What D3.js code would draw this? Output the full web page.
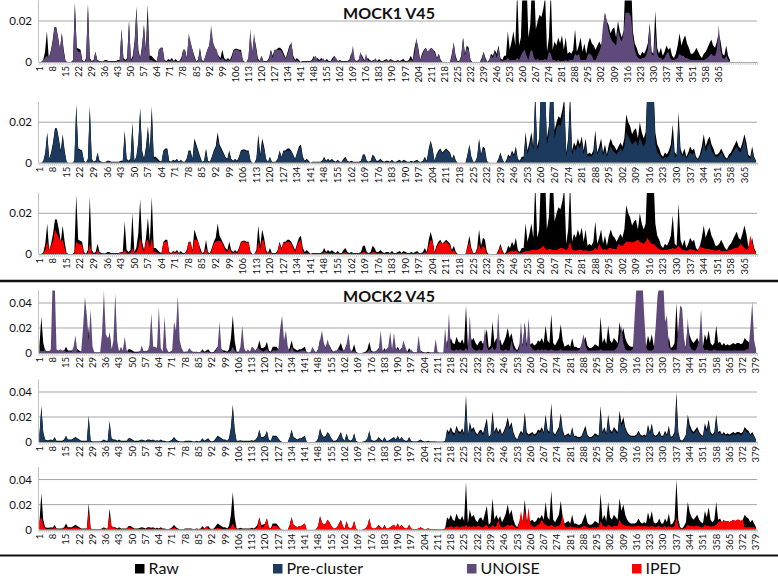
<!DOCTYPE html>
<html>
<head>
<meta charset="utf-8">
<script src="https://cdn.jsdelivr.net/npm/d3@7"></script>
<style>
  body { margin: 0; background: #fff; }
  text { font-family: Lato, "Open Sans", sans-serif; fill: #111; }
</style>
</head>
<body>
<div id="chart"></div>
<script>
// values are relative abundances x 1e-3 (one entry per OTU / category)
const mock1Raw = [
  0, 0, 1, 5, 15, 2, 5, 10, 17, 17,
  12, 6, 14, 6, 0.5, 0, 0, 0, 1, 29,
  7, 6.5, 6, 1, 0, 2, 28, 2, 0.5, 1,
  5, 1, 0.5, 0.3, 0.3, 1, 1, 0.5, 0.5, 0.5,
  0.5, 0.5, 1, 1, 16, 2, 1, 2, 20, 1,
  3, 10, 27, 6, 2, 8, 18, 6, 28, 3,
  3, 2, 1, 0.5, 6, 7, 7, 1, 0.5, 1.5,
  1, 2, 0.5, 1.5, 0.5, 0.5, 2, 6, 6, 2,
  12, 9, 6, 3, 0.5, 1, 7, 1, 0.5, 3,
  6, 8, 15, 9, 7, 5, 3, 2, 6, 2,
  1, 2, 1, 3, 6, 6.5, 6.5, 6, 6, 1,
  0, 0, 2, 14, 4, 12, 8, 2, 0.5, 3,
  0.5, 0.5, 0.5, 2, 6, 3, 6, 6, 7, 7,
  6, 4, 2, 5, 8, 9, 3, 1, 2, 1,
  0, 0.5, 0.5, 0.5, 0.5, 0.5, 1, 3, 1, 2,
  1, 2, 1, 0.5, 1.5, 0.5, 0.5, 2, 3, 1,
  0.5, 1, 0.5, 0.5, 0.5, 0.5, 1, 4, 4, 1,
  0.5, 1, 4, 3, 1, 1, 2, 1, 0.5, 1,
  1, 0.5, 1.5, 0.5, 0.5, 1, 1.5, 0.5, 1.5, 1,
  0.5, 0.5, 1, 0.5, 1, 1.5, 0.5, 0.5, 1, 3,
  1, 7, 11, 7, 1, 4, 6, 7, 5, 6,
  7, 6, 5, 2, 4, 1, 0, 0, 0, 0,
  0, 4, 9, 3, 0.5, 0.5, 3, 12, 4, 8,
  7, 1, 0, 0, 0, 0, 0, 2, 5, 2,
  0, 1, 4, 3, 6, 4, 8, 2, 1, 3,
  3, 15, 6, 10, 15, 8, 35, 8, 12, 40,
  40, 40, 12, 18, 40, 40, 16, 20, 23, 22,
  26, 32, 5, 12, 35, 6, 10, 8, 12, 9,
  13, 6, 12, 4, 5, 4, 6, 16, 5, 8,
  12, 5, 9, 4, 9, 12, 9, 8, 6, 8,
  10, 8, 12, 24, 20, 18, 14, 16, 17, 12,
  20, 15, 12, 15, 40, 40, 40, 40, 15, 9,
  7, 4, 3, 5, 4, 6, 9, 19, 5, 4,
  25, 7, 4, 7, 3, 5, 8, 6, 7, 3,
  2, 4, 8, 14, 8, 11, 13, 9, 7, 4,
  4, 5, 7, 5, 3, 2, 4, 5, 7, 9,
  11, 8, 7, 10, 14, 10, 4, 3, 8, 3,
  1
]
const mock1Pre = [
  0, 0, 0.5, 4, 14, 2, 4, 9, 16, 16.5,
  11, 5, 13, 5, 0.3, 0, 0, 0, 0.5, 27,
  6.5, 6, 5.5, 0.5, 0, 1.5, 26, 1.5, 0.3, 0.5,
  4.5, 0.5, 0.3, 0.2, 0.2, 0.5, 0.5, 0.3, 0.3, 0.3,
  0.3, 0.3, 0.5, 0.5, 14, 1.5, 0.5, 1.5, 18, 0.5,
  2.5, 9, 25, 5, 1.5, 7, 16, 5, 25, 2,
  2, 1, 0.5, 0.3, 5.5, 6.5, 6.5, 0.5, 0.3, 1,
  0.5, 1.5, 0.3, 1, 0.3, 0.3, 1.5, 5.5, 5.5, 1.5,
  10, 8, 5, 2, 0.3, 0.5, 6, 0.5, 0.3, 2.5,
  5.5, 7, 12, 8, 6, 4.5, 2.5, 1.5, 5, 1.5,
  0.5, 1.5, 0.5, 2.5, 5.5, 6, 6, 5.5, 5.5, 0.5,
  0, 0, 1.5, 11, 3, 10, 7, 1.5, 0.3, 2.5,
  0.3, 0.3, 0.3, 1.5, 5.5, 2.5, 5.5, 5.5, 6, 6,
  5.5, 3.5, 1.5, 4.5, 7, 8, 2.5, 0.5, 1.5, 0.5,
  0, 0.3, 0.3, 0.3, 0.3, 0.3, 0.5, 2.5, 0.5, 1.5,
  0.5, 1.5, 0.5, 0.3, 1, 0.3, 0.3, 1.5, 2.5, 0.5,
  0.3, 0.5, 0.3, 0.3, 0.3, 0.3, 0.5, 3.5, 3.5, 0.5,
  0.3, 0.5, 3.5, 2.5, 0.5, 0.5, 1.5, 0.5, 0.3, 0.5,
  0.5, 0.3, 1, 0.3, 0.3, 0.5, 1, 0.3, 1, 0.5,
  0.3, 0.3, 0.5, 0.3, 0.5, 1, 0.3, 0.3, 0.5, 2.5,
  0.5, 6, 10, 6, 0.5, 3.5, 5.5, 6.5, 4.5, 5.5,
  6.5, 5.5, 4.5, 1.5, 3.5, 0.5, 0, 0, 0, 0,
  0, 3.5, 8.5, 2.5, 0.3, 0.3, 2.5, 11, 3.5, 7,
  6, 0.5, 0, 0, 0, 0, 0, 1.5, 4.5, 1.5,
  0, 0.5, 3, 2.5, 5, 3, 6, 1.5, 0.5, 2,
  2, 12, 4, 8, 12, 6, 32, 6, 9, 40,
  40, 40, 9, 14, 40, 40, 12, 17, 19, 18,
  22, 28, 3, 10, 29, 4, 7, 6, 9, 7,
  10, 4, 9, 3, 3.5, 3, 4, 12, 3.5, 6,
  9, 3.5, 6, 3, 6, 8, 6, 5, 4, 5.5,
  7, 5.5, 8, 15, 13, 11, 9, 10, 11, 8,
  13, 10, 8, 10, 40, 40, 40, 38, 10, 5,
  4, 2.5, 2, 3, 2.5, 3.5, 6, 12, 3, 3,
  20, 5, 3, 4.5, 2, 3.5, 5, 4, 5, 2,
  1.5, 3, 5.5, 10, 5.5, 8, 10, 6, 4.5, 3,
  3, 3.5, 5, 3.5, 2, 1.5, 3, 3.5, 5, 6.5,
  8, 6, 5, 7.5, 12, 7, 3, 2, 6, 2,
  0.5
]
const mock1Unoise = [
  0, 0, 1, 2, 3, 2, 5, 9, 16, 17,
  12, 6, 14, 5, 0.3, 0, 0, 0, 0.5, 27,
  6, 5, 5, 0.5, 0, 1, 28, 1, 0.3, 0.5,
  5, 0.5, 0.2, 0.2, 0.2, 0.5, 0.5, 0.2, 0.2, 0.3,
  0.3, 0.3, 0.5, 0.5, 16, 1, 0.5, 1, 20, 0.5,
  2, 9, 26, 5, 1.5, 7, 18, 5, 22, 1,
  1, 0.5, 0.3, 0.2, 6, 7, 7, 0.5, 0.3, 0.5,
  0.5, 1, 0.3, 0.5, 0.3, 0.3, 1, 6, 6, 1.5,
  14, 10, 6, 2, 0.3, 0.5, 6, 0.5, 0.3, 3,
  6, 8, 18, 10, 7, 6, 2.5, 1, 2, 1,
  0.5, 1, 0.5, 2, 5.5, 6, 6, 5.5, 5, 0.5,
  0, 0, 2, 16, 4, 14, 7, 1, 0.3, 3,
  0.3, 0.3, 0.3, 1, 6, 2, 5.5, 6, 6, 6,
  5, 3, 1.5, 4, 7, 10, 2, 0.5, 1, 0.3,
  0, 0.2, 0.2, 0.3, 0.3, 0.3, 0.5, 2, 3, 1,
  0.5, 1, 2, 0.5, 0.5, 0.3, 0.3, 1, 3, 2,
  0.3, 0.5, 0.3, 0.3, 0.3, 0.3, 0.5, 3, 8, 1,
  0.3, 0.5, 5, 2, 0.5, 4, 1, 0.5, 0.3, 0.5,
  2, 0.3, 0.5, 0.3, 0.3, 0.5, 1, 0.3, 1, 0.5,
  0.3, 0.3, 0.5, 0.3, 0.5, 0.5, 0.3, 0.3, 0.5, 1,
  0.5, 4, 12, 6, 0.5, 3, 5.5, 7, 5, 6,
  7, 6, 4, 1.5, 4, 0.5, 0, 0, 0, 0,
  0, 3, 10, 2, 0.3, 0.3, 2, 12, 3, 7,
  6, 0.5, 0, 0, 0, 0, 0, 1, 5, 1,
  0, 0.5, 3, 2, 5, 2, 7, 1, 0.5, 1,
  1, 2, 1, 1, 1, 1, 2, 1, 3, 5,
  6, 3, 1, 5, 6, 2, 1, 1.5, 1, 1,
  1, 1.5, 1, 5, 4, 1, 1, 0.5, 1, 0.5,
  0.5, 0.5, 1, 0.5, 1, 1, 1, 4, 3, 4,
  1, 1, 1, 1, 4, 4, 3, 1, 1, 3,
  5, 8, 18, 24, 20, 15, 12, 10, 9, 8,
  16, 12, 10, 14, 24, 24, 24, 22, 12, 6,
  3, 2, 1.5, 2, 2, 3, 6, 18, 4, 3,
  14, 4, 2, 2, 1, 2, 4, 5, 2, 1,
  1, 1.5, 2, 4, 3, 3, 2, 2, 1.5, 1,
  1, 1, 1, 1, 1, 1, 1, 1.5, 2, 3,
  4, 3, 3, 6, 18, 6, 2, 1.5, 3, 1,
  0.3
]
const mock1Iped = [
  0, 0, 0.5, 2, 6, 2, 4, 6, 12, 10,
  8, 6, 7, 3, 0.2, 0, 0, 0, 0.3, 6,
  5, 5, 4, 0.3, 0, 0.5, 5, 0.5, 0.2, 0.3,
  2, 0.3, 0.2, 0.2, 0.2, 0.3, 0.3, 0.2, 0.2, 0.2,
  0.2, 0.3, 1, 0.5, 2, 0.5, 0.3, 0.5, 3, 0.3,
  1, 3, 8, 3, 1, 6, 7, 3, 8, 1,
  1, 0.5, 0.3, 0.2, 5.5, 6, 6, 0.5, 0.2, 1,
  0.5, 1, 0.2, 0.5, 0.2, 0.2, 1, 5.5, 6, 1,
  7, 7, 6, 1.5, 0.2, 0.3, 3, 0.3, 0.2, 2,
  5, 6, 6.5, 6.5, 6, 4, 1.5, 1, 3, 1,
  0.3, 1, 0.3, 2, 5.5, 6, 6, 5.5, 5.5, 0.3,
  0, 0, 1, 6, 2, 7, 6, 1, 0.2, 1,
  0.2, 0.2, 0.2, 1, 5.5, 2, 5.5, 5.5, 6, 6,
  5, 3, 1, 4, 6, 7, 1, 0.3, 0.5, 0.3,
  0, 0.2, 0.2, 0.2, 0.2, 0.2, 0.3, 1, 0.5, 0.5,
  0.3, 0.5, 0.3, 0.2, 0.5, 0.2, 0.2, 0.5, 1, 0.3,
  0.2, 0.3, 0.2, 0.2, 0.2, 0.2, 0.3, 1, 1, 0.3,
  0.2, 0.3, 1, 1, 0.3, 0.3, 0.5, 0.3, 0.2, 0.3,
  0.3, 0.2, 0.5, 0.2, 0.2, 0.3, 0.5, 0.2, 0.5, 0.3,
  0.2, 0.2, 0.3, 0.2, 0.3, 0.5, 0.2, 0.2, 0.3, 1,
  0.3, 4, 7, 6, 0.3, 3, 5, 6, 5, 5.5,
  6, 5, 4, 1, 2, 0.3, 0, 0, 0, 0,
  0, 3, 6, 2, 0.2, 0.2, 2, 5, 2, 4,
  3, 0.3, 0, 0, 0, 0, 0, 1, 4, 1,
  0, 0.3, 1, 1, 2, 1, 2, 1, 0.3, 0.5,
  1, 1.5, 1.5, 1.5, 2, 2, 2, 2, 2.5, 3,
  4, 3, 2, 2.5, 2.5, 2, 2, 2, 2.5, 3,
  3, 2.5, 2, 3, 6, 2, 2, 1.5, 2, 2,
  2, 1.5, 2, 1.5, 1.5, 1.5, 2, 3, 2, 5,
  3, 2, 2.5, 2, 3, 3, 2.5, 2.5, 2.5, 5,
  4, 4, 5, 6, 6, 6, 5.5, 6, 6.5, 7,
  6, 5.5, 5, 6, 8, 6, 5, 5, 4, 3,
  2.5, 2, 2, 2, 2, 2.5, 2.5, 3, 2.5, 3,
  4, 3, 2, 2, 1.5, 2, 2.5, 2, 2, 1.5,
  1.5, 4, 3, 3, 2.5, 2.5, 2.5, 2, 2, 1.5,
  2, 2, 1.5, 1.5, 1.5, 1.5, 2, 2, 2.5, 3,
  3, 3.5, 5, 4, 3, 2, 3, 9, 6, 2,
  0.5
]

const mock2Raw = [
  6, 29, 8, 2, 1.5, 1.5, 2, 1.5, 4, 1,
  1, 1, 1, 2, 5, 2, 2, 2, 3, 4,
  3, 2, 1, 1, 1, 1, 21, 1, 0.5, 0.5,
  0.5, 0.5, 0.5, 1, 2, 1, 1, 17, 3, 2,
  2, 1, 2, 1, 1, 1, 1, 3, 3, 2,
  1, 1, 1, 1.5, 2, 1.5, 1, 2, 2, 1.5,
  2, 1, 1.5, 1, 2, 1, 1, 0.5, 0.5, 1,
  2, 4, 2, 1, 0.5, 0.5, 0.5, 1, 1, 1,
  1, 0.5, 0.5, 1, 0.5, 1, 3, 1, 2, 3,
  1, 0.5, 1, 3, 5, 4, 3, 2, 2, 1,
  3, 12, 30, 10, 1, 1, 1.5, 1, 1, 1,
  1, 1, 1.5, 1, 2, 4, 10, 4, 4, 5,
  9, 2, 1, 5, 5, 5, 3, 1, 0, 0,
  0, 0, 4, 10, 4, 3, 2, 3, 3, 4,
  5, 0, 0, 0, 0, 0, 0.5, 3, 11, 6,
  4, 5, 8, 6, 3, 1, 1, 2, 5, 8,
  3, 1, 7, 2, 1, 2, 7, 1, 0, 0,
  0, 0.5, 1, 3, 9, 2, 1, 1, 2, 4,
  2, 1, 4, 1, 1, 2, 3, 4, 2, 5,
  2, 4, 2, 1, 1, 4, 1, 0.5, 0.5, 0.5,
  1, 2, 1, 0.5, 0.5, 1, 0.5, 0.5, 0.5, 0.5,
  0.3, 0.3, 0.3, 0.3, 1, 10, 8, 12, 8, 7,
  13, 9, 8, 11, 7, 38, 5, 16, 10, 12,
  8, 6, 9, 10, 7, 13, 19, 4, 6, 25,
  8, 12, 8, 11, 6, 9, 13, 20, 12, 16,
  8, 4, 2, 6, 9, 7, 24, 8, 6, 7,
  8, 6, 7, 10, 9, 12, 8, 22, 10, 8,
  31, 8, 6, 9, 12, 23, 10, 5, 6, 7,
  5, 12, 5, 5, 4, 4, 5, 9, 13, 6,
  4, 4, 5, 7, 6, 5, 29, 8, 12, 7,
  22, 10, 8, 12, 10, 8, 25, 15, 20, 12,
  8, 6, 5, 5, 5, 6, 9, 6, 5, 6,
  5, 14, 8, 15, 6, 5, 6, 9, 5, 5,
  9, 6, 13, 4, 5, 8, 40, 8, 2, 1,
  3, 6, 22, 14, 10, 8, 10, 12, 8, 6,
  5, 15, 10, 18, 8, 6, 8, 22, 8, 9,
  6, 8, 6, 7, 6, 7, 8, 7, 8, 8,
  7, 8, 12, 10, 9, 6, 8, 5, 2
]
const mock2Pre = [
  5, 27, 7, 1.5, 1, 1, 1.5, 1, 3.5, 0.5,
  0.5, 0.5, 0.5, 1.5, 4.5, 1.5, 1.5, 1.5, 2.5, 3.5,
  2.5, 1.5, 0.5, 0.5, 0.5, 0.5, 19, 0.5, 0.3, 0.3,
  0.3, 0.3, 0.3, 0.5, 1.5, 0.5, 0.5, 15, 2.5, 1.5,
  1.5, 0.5, 1.5, 0.5, 0.5, 0.5, 0.5, 2.5, 2.5, 1.5,
  0.5, 0.5, 0.5, 1, 1.5, 1, 0.5, 1.5, 1.5, 1,
  1.5, 0.5, 1, 0.5, 1.5, 0.5, 0.5, 0.3, 0.3, 0.5,
  1.5, 3.5, 1.5, 0.5, 0.3, 0.3, 0.3, 0.5, 0.5, 0.5,
  0.5, 0.3, 0.3, 0.5, 0.3, 0.5, 2.5, 0.5, 1.5, 2.5,
  0.5, 0.3, 0.5, 2.5, 4, 3.5, 2.5, 1.5, 1.5, 0.5,
  2.5, 10, 27, 8, 0.5, 0.5, 1, 0.5, 0.5, 0.5,
  0.5, 0.5, 1, 0.5, 1.5, 3.5, 9, 3.5, 3.5, 4.5,
  8, 1.5, 0.5, 4.5, 4.5, 4.5, 2.5, 0.5, 0, 0,
  0, 0, 3.5, 9, 3.5, 2.5, 1.5, 2.5, 2.5, 3.5,
  4.5, 0, 0, 0, 0, 0, 0.3, 2.5, 10, 5.5,
  3.5, 4.5, 7.5, 5.5, 2.5, 0.5, 0.5, 1.5, 4.5, 7.5,
  2.5, 0.5, 6.5, 1.5, 0.5, 1.5, 6.5, 0.5, 0, 0,
  0, 0.3, 0.5, 2.5, 8.5, 1.5, 0.5, 0.5, 1.5, 3.5,
  1.5, 0.5, 3.5, 0.5, 0.5, 1.5, 2.5, 3.5, 1.5, 4.5,
  1.5, 3.5, 1.5, 0.5, 0.5, 3.5, 0.5, 0.3, 0.3, 0.3,
  0.5, 1.5, 0.5, 0.3, 0.3, 0.5, 0.3, 0.3, 0.3, 0.3,
  0.2, 0.2, 0.2, 0.2, 0.5, 8, 6, 10, 6, 5.5,
  11, 7, 6.5, 9, 5.5, 30, 4, 13, 8, 10,
  6.5, 5, 7.5, 8, 5.5, 11, 15, 3, 5, 20,
  6.5, 10, 6.5, 9, 5, 7.5, 11, 16, 10, 13,
  6.5, 3, 1.5, 5, 7.5, 5.5, 19, 6.5, 5, 5.5,
  6.5, 5, 5.5, 8, 7.5, 10, 6.5, 18, 8, 6.5,
  25, 6.5, 5, 7.5, 10, 19, 8, 4, 5, 5.5,
  4, 10, 4, 4, 3, 3, 4, 7.5, 10, 5,
  3, 3, 4, 5.5, 5, 4, 23, 6.5, 10, 5.5,
  18, 8, 6.5, 10, 8, 6.5, 20, 12, 16, 10,
  6.5, 5, 4, 4, 4, 5, 7.5, 5, 4, 5,
  4, 11, 6.5, 12, 5, 4, 5, 7.5, 4, 4,
  7.5, 5, 10, 3, 4, 6.5, 34, 6, 1.5, 0.5,
  2.5, 5, 18, 11, 8, 6.5, 8, 10, 6.5, 5,
  4, 12, 8, 15, 6.5, 5, 6.5, 18, 6.5, 7.5,
  5, 6.5, 5, 5.5, 5, 5.5, 6.5, 5.5, 6.5, 6.5,
  5.5, 6.5, 10, 8, 7.5, 5, 6.5, 4, 1.5
]
const mock2Unoise = [
  1, 2, 1.5, 3, 1, 1, 3, 60, 60, 3,
  2, 3, 2, 2.5, 1, 1, 1.5, 1, 5, 14,
  1, 1, 1, 20, 45, 30, 10, 35, 5, 0.5,
  0.3, 0.3, 0.5, 15, 50, 15, 12, 14, 2, 10,
  48, 10, 1, 5, 2, 13, 2, 1, 1, 0.5,
  0.5, 0.5, 0.5, 1, 6, 1, 2, 1, 6, 32,
  5, 5, 4, 37, 4, 1, 29, 4, 1, 0.5,
  2, 25, 18, 46, 10, 4, 1, 1, 1, 4,
  2, 1, 1, 1, 0.5, 1, 1.5, 0.5, 1, 1,
  0.5, 0.3, 0.5, 2, 5, 25, 3, 1, 1, 0.5,
  1, 2, 5, 2, 0.5, 0.5, 5, 22, 4, 1,
  3, 1, 5, 4, 1, 5, 3, 2, 1, 2,
  3, 1, 0.5, 2, 2, 2, 3, 20, 30, 10,
  18, 5, 1, 5, 2, 1, 1, 1, 2, 2,
  2, 1, 0.5, 1, 5, 2, 0.5, 3, 10, 18,
  8, 4, 11, 5, 2, 1, 2, 2, 3, 2,
  2, 3, 7, 16, 3, 1, 2, 0.5, 0, 0,
  0, 0.3, 0.5, 1, 3, 1, 1, 1, 2, 3,
  18, 2, 2, 3, 5, 17, 3, 16, 4, 3,
  2, 3, 10, 5, 1, 1, 3, 1, 0.5, 0.5,
  14, 2, 0.5, 0.3, 0.3, 0.3, 0.5, 0.3, 0.3, 11,
  1, 0.3, 0.3, 0.3, 20, 3, 32, 3, 2, 2,
  3, 2, 3, 2, 2, 4, 2, 30, 5, 3,
  2, 2, 3, 2, 3, 20, 5, 2, 3, 5,
  2, 4, 33, 3, 2, 2, 3, 2, 2, 10,
  3, 2, 1, 3, 25, 4, 25, 4, 28, 6,
  3, 2, 2, 3, 2, 3, 2, 3, 2, 2,
  3, 2, 2, 2, 2, 3, 2, 2, 2, 2,
  2, 2, 2, 2, 2, 3, 8, 15, 6, 2,
  2, 2, 2, 2, 2, 2, 3, 2, 2, 2,
  2, 2, 2, 2, 3, 5, 10, 22, 8, 3,
  2, 2, 2, 3, 30, 55, 60, 60, 60, 30,
  5, 2, 2, 2, 3, 20, 45, 55, 60, 60,
  25, 30, 5, 3, 2, 3, 2, 20, 38, 36,
  12, 3, 28, 6, 3, 2, 2, 5, 10, 35,
  5, 2, 3, 2, 2, 2, 3, 2, 2, 2,
  2, 2, 2, 2, 2, 2, 2, 2, 2, 2,
  2, 2, 2, 3, 3, 20, 41, 10, 3
]
const mock2Iped = [
  7, 10, 4, 1, 0.5, 0.5, 1, 0.5, 2, 0.5,
  0.5, 0.5, 0.5, 1, 2, 1, 1, 1, 1.5, 2,
  1.5, 1, 0.5, 0.5, 0.5, 0.5, 15, 0.5, 0.2, 0.2,
  0.2, 0.2, 0.2, 0.5, 1, 0.5, 0.5, 12, 3, 2,
  1, 0.5, 1, 0.5, 0.5, 0.5, 0.5, 2, 1.5, 1,
  0.5, 0.5, 0.5, 0.5, 1, 0.5, 0.5, 1, 1, 0.5,
  1, 0.5, 0.5, 0.5, 1, 0.5, 0.5, 0.2, 0.2, 0.5,
  1, 2, 1, 0.5, 0.2, 0.2, 0.2, 0.5, 0.5, 0.5,
  0.5, 0.2, 0.2, 1, 0.2, 0.5, 1, 0.5, 3, 1,
  0.5, 0.2, 0.5, 1, 1.5, 1, 1, 0.5, 0.5, 0.5,
  1, 2, 5, 2, 0.5, 0.5, 0.5, 0.5, 0.5, 0.5,
  0.5, 0.5, 0.5, 0.5, 1, 2, 9, 2, 2, 5,
  9, 1.5, 0.5, 3, 3, 3, 2, 0.5, 0, 0,
  0, 0, 3, 10, 4, 3, 2, 3, 3, 4,
  5, 0, 0, 0, 0, 0, 0.3, 3, 10, 6,
  4, 5, 8, 6, 3, 1, 1, 2, 5, 7,
  3, 1, 6, 2, 1, 2, 7, 1, 0, 0,
  0, 0.3, 1, 3, 9, 2, 1, 1, 2, 3,
  2, 1, 3, 1, 1, 2, 3, 4, 2, 5,
  2, 4, 2, 1, 1, 4, 1, 0.5, 0.5, 0.5,
  1, 2, 1, 0.5, 0.5, 1, 0.5, 0.5, 0.5, 0.5,
  0.3, 0.3, 0.3, 0.3, 1, 2, 2, 3, 2, 2,
  3, 2, 2, 3, 2, 4, 2, 3, 2, 3,
  2, 3, 3, 2, 2, 3, 4, 1.5, 2, 4,
  2, 3, 8, 3, 2, 2, 3, 4, 3, 4,
  3, 2, 1, 5, 15, 6, 16, 5, 18, 4,
  3, 2, 3, 4, 5, 8, 5, 4, 3, 3,
  4, 3, 2, 3, 3, 5, 12, 3, 2, 2,
  3, 2, 2, 2, 1.5, 1.5, 2, 3, 3, 2,
  1.5, 1.5, 2, 2, 2, 2, 7, 3, 3, 2,
  4, 3, 2, 3, 3, 3, 8, 5, 4, 3,
  3, 3, 2.5, 2.5, 2.5, 3, 3, 2.5, 2.5, 3,
  2.5, 3, 2, 3, 2.5, 2, 2.5, 3, 2, 2,
  3, 2, 3, 2, 2, 3, 10, 3, 1, 0.5,
  1, 2, 4, 3, 3, 2.5, 3, 3, 2.5, 2,
  2, 4, 3, 3, 2.5, 2.5, 3, 4, 6, 7,
  6, 7, 7, 7, 6, 7, 8, 7, 8, 8,
  7, 8, 2, 2, 2, 2, 2, 2, 1
]

// axis labels
const mock1Labels = d3.range(1, 366, 7)
const mock2Labels = d3.range(1, 380, 7)
const mock1YTicks = [0, 0.02]
const mock2YTicks = [0, 0.02, 0.04]
const legendNames = ["Raw", "Pre-cluster", "UNOISE", "IPED"]

// boiler plate
const svgWidth = 778
const svgHeight = 578
const plotLeft = 38.5
const plotRight = 757

const colors = {
  raw: "#000000",
  pre: "#1b3a5e",
  unoise: "#604a7b",
  iped: "#ff0000"
}

let svg = d3.select("#chart")
  .append("svg")
  .attr("width", svgWidth)
  .attr("height", svgHeight)

let panels = [
  { top: 0.5, zero: 62, cats: 385, max: 0.03, ticks: mock1YTicks, labels: mock1Labels, raw: mock1Raw, series: mock1Unoise, color: colors.unoise },
  { top: 102, zero: 162.7, cats: 371, max: 0.03, ticks: mock1YTicks, labels: mock1Labels, raw: mock1Raw, series: mock1Pre, color: colors.pre },
  { top: 193, zero: 254, cats: 371, max: 0.03, ticks: mock1YTicks, labels: mock1Labels, raw: mock1Raw, series: mock1Iped, color: colors.iped },
  { top: 290.5, zero: 353, cats: 379, max: 0.05, ticks: mock2YTicks, labels: mock2Labels, raw: mock2Raw, series: mock2Unoise, color: colors.unoise },
  { top: 379.5, zero: 442, cats: 379, max: 0.05, ticks: mock2YTicks, labels: mock2Labels, raw: mock2Raw, series: mock2Pre, color: colors.pre },
  { top: 467, zero: 529.7, cats: 379, max: 0.05, ticks: mock2YTicks, labels: mock2Labels, raw: mock2Raw, series: mock2Iped, color: colors.iped }
]

function drawPanel(p, i) {
  let x = d3.scaleLinear().domain([0.5, p.cats + 0.5]).range([plotLeft, plotRight])
  let y = d3.scaleLinear().domain([0, p.max]).range([p.zero, p.top])
  let g = svg.append("g")

  // gridlines behind the areas
  g.selectAll(".grid")
    .data(p.ticks.filter(t => t > 0))
    .enter()
    .append("line")
    .attr("x1", plotLeft)
    .attr("x2", plotRight)
    .attr("y1", d => y(d))
    .attr("y2", d => y(d))
    .attr("stroke", "#a6a6a6")
    .attr("stroke-width", 1)

  let clipId = "clip" + i
  svg.append("clipPath")
    .attr("id", clipId)
    .append("rect")
    .attr("x", plotLeft)
    .attr("y", p.top)
    .attr("width", plotRight - plotLeft)
    .attr("height", p.zero - p.top)

  let area = d3.area()
    .x((d, j) => x(j + 1))
    .y0(p.zero)
    .y1(d => y(d / 1000))

  // raw behind, method in front
  g.append("path")
    .datum(p.raw)
    .attr("d", area)
    .attr("fill", colors.raw)
    .attr("clip-path", `url(#${clipId})`)

  g.append("path")
    .datum(p.series)
    .attr("d", area)
    .attr("fill", p.color)
    .attr("clip-path", `url(#${clipId})`)

  // y axis line
  g.append("line")
    .attr("x1", plotLeft)
    .attr("x2", plotLeft)
    .attr("y1", p.top)
    .attr("y2", p.zero)
    .attr("stroke", "#bfbfbf")

  g.selectAll(".ylab")
    .data(p.ticks)
    .enter()
    .append("text")
    .attr("x", 32)
    .attr("y", d => y(d))
    .attr("dy", "0.35em")
    .attr("text-anchor", "end")
    .attr("font-size", 11.5)
    .text(d => d === 0 ? "0" : d3.format(".2f")(d))

  // category axis with a minor tick per category
  let bottomAxis = d3.axisBottom(x)
    .tickValues(d3.range(0.5, p.cats + 1, 1))
    .tickSize(3)
    .tickSizeOuter(0)
    .tickFormat("")

  let xAxis = g.append("g")
    .attr("transform", `translate(0, ${p.zero})`)
    .call(bottomAxis)
  xAxis.select(".domain").attr("stroke", "#9a9a9a")
  xAxis.selectAll(".tick line").attr("stroke", "#c4c4c4").attr("stroke-width", 0.8)

  g.selectAll(".xlab")
    .data(p.labels)
    .enter()
    .append("text")
    .attr("transform", d => `translate(${x(d)}, ${p.zero + 4}) rotate(-90)`)
    .attr("text-anchor", "end")
    .attr("dy", "0.35em")
    .attr("font-size", 9.5)
    .text(d => d)
}

panels.forEach((p, i) => drawPanel(p, i))

// titles
svg.append("text")
  .attr("x", 389)
  .attr("y", 18.5)
  .attr("text-anchor", "middle")
  .attr("font-size", 16)
  .attr("font-weight", "bold")
  .text("MOCK1 V45")

svg.append("text")
  .attr("x", 389)
  .attr("y", 301.5)
  .attr("text-anchor", "middle")
  .attr("font-size", 16)
  .attr("font-weight", "bold")
  .text("MOCK2 V45")

// separators
svg.append("line")
  .attr("x1", 0).attr("x2", svgWidth)
  .attr("y1", 281).attr("y2", 281)
  .attr("stroke", "#111")
  .attr("stroke-width", 2.5)

svg.append("line")
  .attr("x1", 0).attr("x2", svgWidth)
  .attr("y1", 555.5).attr("y2", 555.5)
  .attr("stroke", "#111")
  .attr("stroke-width", 2)

// legend
let legendX = [135, 273, 467, 632]
let legendColors = [colors.raw, colors.pre, colors.unoise, colors.iped]

let legend = svg.selectAll(".legend")
  .data(legendNames)
  .enter()
  .append("g")
  .attr("transform", (d, i) => `translate(${legendX[i]}, 564)`)

legend.append("rect")
  .attr("width", 9.5)
  .attr("height", 9.5)
  .attr("fill", (d, i) => legendColors[i])

legend.append("text")
  .attr("x", 13.5)
  .attr("y", 10)
  .attr("font-size", 16)
  .text(d => d)
</script>
</body>
</html>
